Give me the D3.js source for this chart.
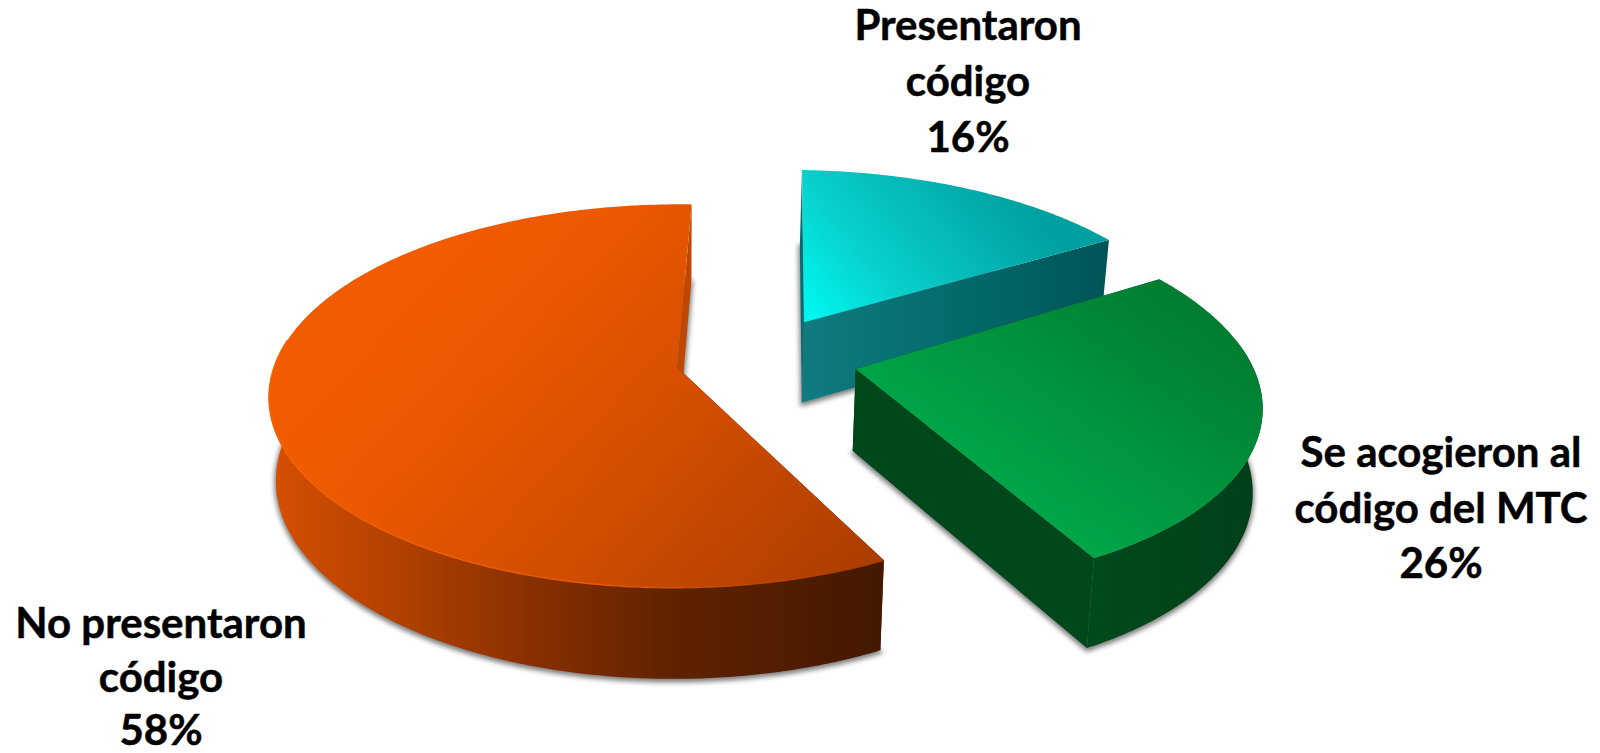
<!DOCTYPE html>
<html lang="es">
<head>
<meta charset="utf-8">
<title>Presentación de códigos</title>
<script src="https://cdn.jsdelivr.net/npm/d3@7"></script>
<style>
  html, body { margin: 0; padding: 0; background: #fff; }
  svg { display: block; }
  text { font-family: Lato, "Open Sans", sans-serif; font-weight: 700; font-size: 42px; fill: #000; stroke: #000; stroke-width: 0.5px; text-anchor: middle; }
</style>
</head>
<body>
<svg id="chart" width="1600" height="753"></svg>
<script>
// Chart data: shares of companies by code status
const categories = ["Presentaron código", "Se acogieron al código del MTC", "No presentaron código"];
const shares = [16, 26, 58];
const labelLines = [
  ["Presentaron", "código", "16%"],
  ["Se acogieron al", "código del MTC", "26%"],
  ["No presentaron", "código", "58%"]
];

// Where each label block sits (centre x, first baseline, line step)
const labelAnchors = [
  { x: 968, y: 40, step: 56 },
  { x: 1441, y: 467, step: 55.5 },
  { x: 161, y: 638, step: 53.5 }
];

// Per-slice pull-out from the pie centre, radius factor, small turn (degrees) and screen offset
const sliceLayout = [
  { explode: 0.22, radius: 1, spin: 0, shift: [0, 0] },
  { explode: 0.24, radius: 0.985, spin: -1, shift: [0, 0] },
  { explode: 0.22, radius: 1, spin: 0, shift: [1, 2] }
];

// Perspective of the pie plane: u runs right, v runs toward the viewer, both in radii
const view = { cx: 762, cy: 356.3, rx: 400, ry: 184.7, shearX: 10, persp: 0.15 };
// The underside of the disc sits lower and converges slightly toward the middle
const depth = { vanishX: 677, xPull: 0.017, base: 67, grow: 0.041 };

function projectTop(u, v) {
  const f = 1 / (1 - view.persp * v);
  return [view.cx + (view.rx * u + view.shearX * v) * f, view.cy + view.ry * v * f];
}
function dropToBase([x, y]) {
  return [x - depth.xPull * (x - depth.vanishX), y + depth.base + depth.grow * y];
}

const svg = d3.select("#chart");
const defs = svg.append("defs");

function linear(id, [x1, y1, x2, y2], stops) {
  const g = defs.append("linearGradient").attr("id", id)
    .attr("gradientUnits", "userSpaceOnUse")
    .attr("x1", x1).attr("y1", y1).attr("x2", x2).attr("y2", y2);
  stops.forEach(([o, c]) => g.append("stop").attr("offset", o).attr("stop-color", c));
  return `url(#${id})`;
}

const cyanFace = linear("cutCyan", [808, 0, 1105, 0], [[0, "#0f7a80"], [0.5, "#036a6c"], [1, "#005558"]]);
const paints = [
  {
    top: linear("topCyan", [815, 318, 1000, 170], [[0, "#00f5f0"], [0.35, "#08cfca"], [1, "#00a0a0"]]),
    wall: cyanFace,
    startCut: "#0a6a70",
    endCut: cyanFace,
    rim: null
  },
  {
    top: linear("topGreen", [980, 570, 1180, 290], [[0, "#00ad4b"], [0.25, "#00a548"], [1, "#007c30"]]),
    wall: linear("wallGreen", [1086, 0, 1260, 0], [[0, "#004a1c"], [1, "#003f18"]]),
    startCut: "#00471c",
    endCut: "#00471c",
    rim: null
  },
  {
    top: linear("topOrange", [450, 220, 860, 600], [[0, "#f25c00"], [0.2, "#ec5900"], [0.6, "#cf4c00"], [1, "#a83c00"]]),
    wall: linear("wallOrange", [265, 0, 886, 0], [[0, "#d85000"], [0.22, "#b04000"], [0.42, "#8a3000"], [0.66, "#5f2200"], [1, "#431800"]]),
    startCut: "#431800",
    endCut: "#bf4700",
    rim: linear("rimOrange", [265, 0, 886, 0], [[0, "#f76400"], [0.55, "#e85a00"], [1, "#9c3800"]])
  }
];

defs.append("filter").attr("id", "softShadow")
  .attr("x", "-10%").attr("y", "-10%").attr("width", "120%").attr("height", "120%")
  .append("feGaussianBlur").attr("stdDeviation", 2.6);

// Angles come from the shares; the first slice starts just past twelve o'clock
const rotation = 2 * Math.PI / 180;
const pie = d3.pie().sort(null).startAngle(rotation).endAngle(rotation + 2 * Math.PI);
const arcs = pie(shares);
const outline = d3.line();

function sliceGeometry(arc, layout) {
  const mid = (arc.startAngle + arc.endAngle) / 2;
  const apex = [layout.explode * Math.sin(mid), -layout.explode * Math.cos(mid)];
  const turn = layout.spin * Math.PI / 180;
  const steps = Math.ceil((arc.endAngle - arc.startAngle) / 0.01);
  const angles = d3.range(steps + 1).map(i => arc.startAngle + turn + (arc.endAngle - arc.startAngle) * i / steps);
  const place = ([x, y]) => [x + layout.shift[0], y + layout.shift[1]];
  const rim = angles.map(a => place(projectTop(apex[0] + layout.radius * Math.sin(a), apex[1] - layout.radius * Math.cos(a))));
  return { apex: place(projectTop(apex[0], apex[1])), rim, angles };
}

// Back slice first, so the nearer ones overlap it
const drawOrder = [0, 2, 1];
const layers = svg.append("g").attr("class", "pie");

drawOrder.forEach(i => {
  const paint = paints[i];
  const { apex, rim, angles } = sliceGeometry(arcs[i], sliceLayout[i]);
  const rimBase = rim.map(dropToBase);
  const apexBase = dropToBase(apex);
  const first = rim[0], last = rim[rim.length - 1];
  const g = layers.append("g").attr("class", "slice").attr("data-category", categories[i]);

  // Soft contact shadow under the disc
  g.append("path")
    .attr("d", outline([apexBase, ...rimBase]) + "Z")
    .attr("fill", "#7d7d7d").attr("stroke", "#7d7d7d").attr("stroke-width", 3)
    .attr("transform", "translate(0,2)")
    .attr("filter", "url(#softShadow)");

  // The two straight cut faces
  g.append("path")
    .attr("d", outline([apex, last, rimBase[rimBase.length - 1], apexBase]) + "Z")
    .attr("fill", paint.endCut);
  g.append("path")
    .attr("d", outline([apex, first, rimBase[0], apexBase]) + "Z")
    .attr("fill", paint.startCut);

  // Curved wall: only the stretch that faces the viewer
  const facing = angles.map((a, k) => k).filter(k => Math.cos(angles[k]) < 0.15);
  if (facing.length > 1) {
    const topEdge = facing.map(k => rim[k]);
    const baseEdge = facing.map(k => rimBase[k]).reverse();
    g.append("path")
      .attr("d", outline([...topEdge, ...baseEdge]) + "Z")
      .attr("fill", paint.wall);
  }

  // Top face
  g.append("path")
    .attr("d", outline([apex, ...rim]) + "Z")
    .attr("fill", paint.top);

  if (paint.rim) {
    g.append("path")
      .attr("d", outline(rim.filter((p, k) => Math.cos(angles[k]) < 0.15)))
      .attr("fill", "none").attr("stroke", paint.rim).attr("stroke-width", 1.4);
  }
});

// Labels
const labels = svg.append("g").attr("class", "labels");
labelLines.forEach((lines, i) => {
  const a = labelAnchors[i];
  const t = labels.append("text").attr("x", a.x).attr("y", a.y);
  lines.forEach((line, k) => {
    t.append("tspan").attr("x", a.x).attr("y", a.y + k * a.step).text(line);
  });
});
</script>
</body>
</html>
